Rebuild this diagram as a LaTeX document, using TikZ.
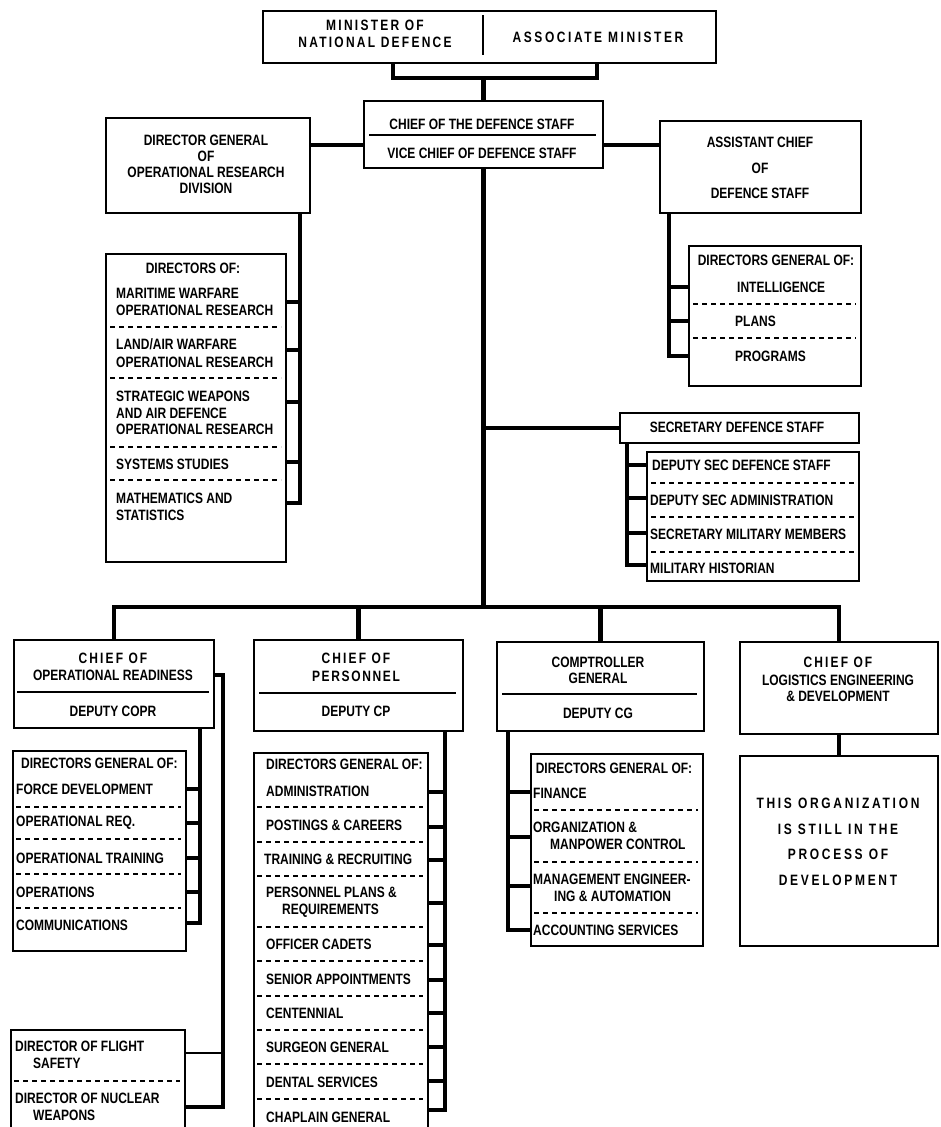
\documentclass[tikz,border=0pt]{standalone}
\usepackage{fontspec}
\setmainfont{Liberation Sans}[FakeStretch=0.8]
\usetikzlibrary{calc}
\tikzset{
  box/.style={draw, line width=2pt, anchor=north west, inner sep=0pt},
  conn/.style={line width=4.5pt, line join=miter},
  tickln/.style={line width=3.4pt},
  divln/.style={line width=1.1pt},
  dline/.style={line width=1.2pt, dash pattern=on 5pt off 4pt},
  txt/.style={font=\fontsize{15}{17.5}\selectfont\bfseries, inner sep=0pt, align=center},
  lt/.style={txt, anchor=west, align=left},
  spc/.style={txt, font=\fontsize{15}{17.5}\selectfont\bfseries\addfontfeatures{LetterSpace=#1}},
}
\begin{document}
\begin{tikzpicture}[x=1pt,y=-1pt]
\path[use as bounding box, clip] (0,0) rectangle (941,1127);

% ---------- boxes ----------
\node[box, minimum width=453pt, minimum height=52pt] (mnd) at (262,10) {};
\node[box, minimum width=239pt, minimum height=67pt] (cds) at (363,100) {};
\node[box, minimum width=204pt, minimum height=95pt] (dgor) at (105,117) {};
\node[box, minimum width=201pt, minimum height=92pt] (acds) at (659,120) {};
\node[box, minimum width=180pt, minimum height=308pt] (dor) at (105,253) {};
\node[box, minimum width=172pt, minimum height=140pt] (acdsdg) at (688,245) {};
\node[box, minimum width=239pt, minimum height=30pt] (sds) at (619,412) {};
\node[box, minimum width=212pt, minimum height=129pt] (sdsdg) at (646,451) {};
\node[box, minimum width=200pt, minimum height=88pt] (copr) at (13,639) {};
\node[box, minimum width=173pt, minimum height=200pt] (coprdg) at (12,750) {};
\node[box, minimum width=174pt, minimum height=130pt] (fs) at (10,1029) {};
\node[box, minimum width=209pt, minimum height=91pt] (cp) at (253,639) {};
\node[box, minimum width=174pt, minimum height=420pt] (cpdg) at (253,752) {};
\node[box, minimum width=207pt, minimum height=89pt] (cg) at (496,641) {};
\node[box, minimum width=172pt, minimum height=192pt] (cgdg) at (530,753) {};
\node[box, minimum width=198pt, minimum height=92pt] (cled) at (739,641) {};
\node[box, minimum width=198pt, minimum height=190pt] (cledx) at (739,755) {};

% ---------- internal dividers ----------
\draw[line width=1.5pt] (483,15) -- (483,55);
\draw[divln] (369,135) -- (596,135);
\draw[divln] (17,692) -- (209,692);
\draw[divln] (259,693) -- (456,693);
\draw[divln] (502,694) -- (697,694);

% dashed separators
\foreach \y in {327,378,447,480} \draw[dline] (110,\y) -- (281,\y);
\foreach \y in {304,338} \draw[dline] (693,\y) -- (856,\y);
\foreach \y in {483,517,552} \draw[dline] (651,\y) -- (854,\y);
\foreach \y in {807,839,874,908} \draw[dline] (16,\y) -- (181,\y);
\foreach \y in {807,842,876,927,961,996,1030,1064,1099} \draw[dline] (257,\y) -- (423,\y);
\foreach \y in {810,862,913} \draw[dline] (534,\y) -- (698,\y);
\draw[dline] (14,1081) -- (180,1081);

% ---------- connectors ----------
\coordinate (bl) at (393,78);
\coordinate (br) at (597,78);
\coordinate (hy) at (0,145);
\coordinate (busy) at (0,607);
\draw[conn] (mnd.south -| bl) -- (bl) -- (br) -- (mnd.south -| br);
\draw[conn] (cds.north |- bl) -- (cds.north);
\draw[conn] (dgor.east |- hy) -- (cds.west |- hy);
\draw[conn] (cds.east |- hy) -- (acds.west |- hy);
\draw[conn] (cds.south) -- (cds.south |- busy);
\draw[conn] (cds.south |- sds.west) -- (sds.west);
\draw[conn] (copr.north) -- (copr.north |- busy) -- (cled.north |- busy) -- (cled.north);
\draw[conn] (cp.north |- busy) -- (cp.north);
\draw[conn] (cg.north |- busy) -- (cg.north);
\draw[conn] (cled.south) -- (cledx.north);

% DG operational research -> directors of
\coordinate (v1) at (300,503);
\draw[conn] (dgor.south -| v1) -- (v1) -- (dor.east |- v1);
\foreach \y in {302,350,402,462} \draw[tickln] (v1 |- 0,\y) -- (dor.east |- 0,\y);

% ACDS -> directors general
\coordinate (v2) at (669,356);
\draw[conn] (acds.south -| v2) -- (v2) -- (acdsdg.west |- v2);
\foreach \y in {287,321} \draw[tickln] (v2 |- 0,\y) -- (acdsdg.west |- 0,\y);

% SDS -> deputies
\coordinate (v3) at (627,565);
\draw[conn] (sds.south -| v3) -- (v3) -- (sdsdg.west |- v3);
\foreach \y in {465,498,533} \draw[tickln] (v3 |- 0,\y) -- (sdsdg.west |- 0,\y);

% COPR -> directors general
\coordinate (v4) at (200,923);
\draw[conn] (copr.south -| v4) -- (v4) -- (coprdg.east |- v4);
\foreach \y in {789,823,858,892} \draw[tickln] (v4 |- 0,\y) -- (coprdg.east |- 0,\y);

% COPR -> flight safety / nuclear weapons
\coordinate (v5t) at (223,675);
\coordinate (v5) at (223,1107);
\draw[conn] (copr.east |- v5t) -- (v5t) -- (v5) -- (fs.east |- v5);
\draw[line width=1.5pt] (v5 |- 0,1053) -- (fs.east |- 0,1053);

% CP -> directors general
\coordinate (v6) at (445,1110);
\draw[conn] (cp.south -| v6) -- (v6) -- (cpdg.east |- v6);
\foreach \y in {792,827,860,903,945,980,1013,1047,1081} \draw[tickln] (v6 |- 0,\y) -- (cpdg.east |- 0,\y);

% CG -> directors general
\coordinate (v7) at (508,930);
\draw[conn] (cg.south -| v7) -- (v7) -- (cgdg.west |- v7);
\foreach \y in {792,837,886} \draw[tickln] (v7 |- 0,\y) -- (cgdg.west |- 0,\y);

% ---------- texts ----------
\node[spc=15] (tm1) at (375,34) {MINISTER OF\\[0pt]NATIONAL DEFENCE};
\node[spc=17] (tm2) at (598,37) {ASSOCIATE MINISTER};
\node[txt] (tc1) at (482,124) {CHIEF OF THE DEFENCE STAFF};
\node[txt] (tc2) at (482,153) {VICE CHIEF OF DEFENCE STAFF};
\node[txt] (tg) at (206,164) {DIRECTOR GENERAL\\[-1.5pt]OF\\[-1.5pt]OPERATIONAL RESEARCH\\[-1.5pt]DIVISION};
\node[txt] (ta) at (760,168) {ASSISTANT CHIEF\\[8pt]OF\\[8pt]DEFENCE STAFF};

\node[txt] (d0) at (193,268) {DIRECTORS OF:};
\node[lt] (d1) at (116,302) {MARITIME WARFARE\\OPERATIONAL RESEARCH};
\node[lt] (d2) at (116,353) {LAND/AIR WARFARE\\OPERATIONAL RESEARCH};
\node[lt] (d3) at (116,413) {STRATEGIC WEAPONS\\[-1pt]AND AIR DEFENCE\\[-1pt]OPERATIONAL RESEARCH};
\node[lt] (d4) at (116,464) {SYSTEMS STUDIES};
\node[lt] (d5) at (116,507) {MATHEMATICS AND\\STATISTICS};

\node[txt] (a0) at (776,260) {DIRECTORS GENERAL OF:};
\node[lt] (a1) at (737,287) {INTELLIGENCE};
\node[lt] (a2) at (735,321) {PLANS};
\node[lt] (a3) at (735,356) {PROGRAMS};

\node[txt] (s0) at (737,427) {SECRETARY DEFENCE STAFF};
\node[lt] (s1) at (652,465) {DEPUTY SEC DEFENCE STAFF};
\node[lt] (s2) at (650,500) {DEPUTY SEC ADMINISTRATION};
\node[lt] (s3) at (650,534) {SECRETARY MILITARY MEMBERS};
\node[lt] (s4) at (650,568) {MILITARY HISTORIAN};

\node[spc=14] (o1) at (113,658) {CHIEF OF};
\node[txt] (o2) at (113,675) {OPERATIONAL READINESS};
\node[txt] (o3) at (113,711) {DEPUTY COPR};
\node[lt] (o4) at (21,763) {DIRECTORS GENERAL OF:};
\node[lt] (o5) at (16,789) {FORCE DEVELOPMENT};
\node[lt] (o6) at (16,823) {OPERATIONAL REQ.};
\node[lt] (o7) at (16,858) {OPERATIONAL TRAINING};
\node[lt] (o8) at (16,892) {OPERATIONS};
\node[lt] (o9) at (16,925) {COMMUNICATIONS};

\node[lt] (f1) at (15,1055) {DIRECTOR OF FLIGHT\\\hspace{18pt}SAFETY};
\node[lt] (f2) at (15,1107) {DIRECTOR OF NUCLEAR\\\hspace{18pt}WEAPONS};

\node[spc=14] (p1) at (356,658) {CHIEF OF};
\node[spc=11] (p2) at (356,676) {PERSONNEL};
\node[txt] (p3) at (356,711) {DEPUTY CP};
\node[lt] (p4) at (266,764) {DIRECTORS GENERAL OF:};
\node[lt] (p5) at (266,791) {ADMINISTRATION};
\node[lt] (p6) at (266,825) {POSTINGS \& CAREERS};
\node[lt] (p7) at (264,859) {TRAINING \& RECRUITING};
\node[lt] (p8) at (266,902) {PERSONNEL PLANS \&\\\hspace{16pt}REQUIREMENTS};
\node[lt] (p9) at (266,944) {OFFICER CADETS};
\node[lt] (p10) at (266,979) {SENIOR APPOINTMENTS};
\node[lt] (p11) at (266,1013) {CENTENNIAL};
\node[lt] (p12) at (266,1047) {SURGEON GENERAL};
\node[lt] (p13) at (266,1082) {DENTAL SERVICES};
\node[lt] (p14) at (266,1117) {CHAPLAIN GENERAL};

\node[txt] (g1) at (598,670) {COMPTROLLER\\[-1.5pt]GENERAL};
\node[txt] (g2) at (598,713) {DEPUTY CG};
\node[txt] (g3) at (614,768) {DIRECTORS GENERAL OF:};
\node[lt] (g4) at (533,793) {FINANCE};
\node[lt] (g5) at (533,836) {ORGANIZATION \&\\\hspace{17pt}MANPOWER CONTROL};
\node[lt] (g6) at (533,888) {MANAGEMENT ENGINEER-\\\hspace{21pt}ING \& AUTOMATION};
\node[lt] (g7) at (533,930) {ACCOUNTING SERVICES};

\node[spc=14] (l1) at (838,662) {CHIEF OF};
\node[txt] (l2) at (838,688) {LOGISTICS ENGINEERING\\[-1.5pt]\& DEVELOPMENT};
\node[spc=18] (l3) at (838,803) {THIS ORGANIZATION};
\node[spc=18] (l4) at (838,829) {IS STILL IN THE};
\node[spc=18] (l5) at (838,854) {PROCESS OF};
\node[spc=18] (l6) at (838,880) {DEVELOPMENT};
\end{tikzpicture}
\end{document}
